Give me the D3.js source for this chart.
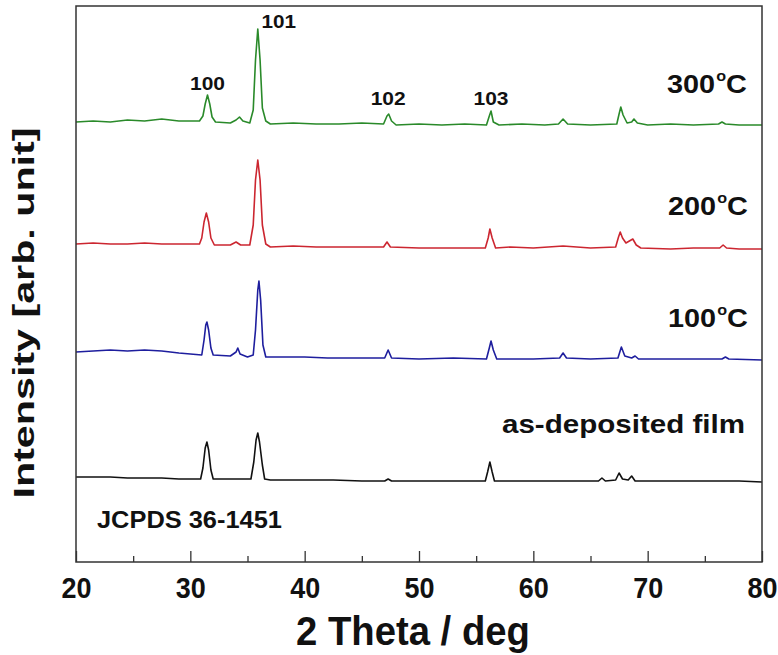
<!DOCTYPE html>
<html>
<head>
<meta charset="utf-8">
<script src="https://cdn.jsdelivr.net/npm/d3@7/dist/d3.min.js"></script>
<style>
  html, body { margin: 0; padding: 0; background: #fff; }
  svg { display: block; }
  text { font-family: "Liberation Sans", Arial, sans-serif; font-weight: bold; fill: #111; }
</style>
</head>
<body>
<svg id="chart" width="778" height="655"></svg>
<script>
// XRD patterns of the films, stacked with a vertical offset (arbitrary intensity units).
// Each pattern: [2θ (deg), intensity]
const pattern300 = [
  [20,440],[21.5,441],[23,440],[24.5,442],[26,441],[27.5,443],[29,441],[30.8,441],
  [31.1,446],[31.3,458],[31.5,467],[31.7,458],[31.9,445],[32.2,440],
  [33.5,439],[34.0,442],[34.3,445],[34.6,441],[35.2,439],
  [35.5,452],[35.7,502],[35.9,533],[36.1,502],[36.3,454],[36.6,441],[37.0,438],
  [39,439],[41,438],[43,438],[45,439],[46.9,438],[47.2,446],[47.35,448],[47.6,441],[48,437],
  [50,438],[52,437],[54,438],[55.9,437],[56.15,446],[56.3,451],[56.5,440],[57,437],
  [59,438],[61,437],[62.2,438],[62.6,443],[63.0,438],[65,437],
  [67.3,438],[67.5,448],[67.65,455],[67.85,447],[68.2,439],[68.6,440],[68.8,443],[69.1,439],
  [70,437],[72,438],[74,437],[76.2,438],[76.5,440],[76.8,438],[78,437],[80,437]
];
const pattern200 = [
  [20,318],[21.5,319],[23,318],[24.5,318],[26,319],[27.5,318],[29,318],[30.8,318],
  [31.0,324],[31.2,340],[31.4,349],[31.6,340],[31.8,324],[32.1,317],
  [33.5,317],[34.0,320],[34.4,317],[35.2,317],
  [35.5,337],[35.7,382],[35.9,402],[36.1,382],[36.3,337],[36.6,318],[37.0,315],
  [39,316],[41,315],[44,315],[46.9,315],[47.2,320],[47.5,315],[50,314],
  [53,314],[55.8,314],[56.05,324],[56.2,333],[56.4,324],[56.7,314],
  [58,315],[60,314],[62.6,316],[65,314],
  [67.2,315],[67.45,325],[67.6,330],[67.8,324],[68.1,319],[68.4,321],[68.7,323],[69.0,317],[69.4,314],
  [72,313],[74,314],[76.3,314],[76.6,317],[76.9,314],[78,313],[80,313]
];
const pattern100 = [
  [20,210],[21.5,211],[23,212],[24.5,211],[26,212],[27.5,211],[29,209],[31.0,207],
  [31.2,222],[31.35,237],[31.45,240],[31.6,232],[31.8,214],[32.0,207],
  [33.5,206],[34.0,210],[34.15,214],[34.35,208],[35.0,205],
  [35.5,207],[35.7,232],[35.9,272],[36.0,281],[36.15,262],[36.35,217],[36.6,205],
  [38,205],[40,205],[42,204],[44,204],[47.0,204],[47.3,212],[47.6,204],[50,203],
  [53,204],[55.9,203],[56.15,214],[56.3,221],[56.5,212],[56.8,203],
  [58,203],[60,203],[62.3,204],[62.6,209],[62.9,204],[65,203],
  [67.4,204],[67.7,215],[68.0,206],[68.6,204],[68.9,206],[69.2,203],
  [72,203],[74,203],[76.5,203],[76.8,205],[77.1,203],[80,202]
];
const patternAsDep = [
  [20,85],[21.5,85],[23,85],[24.5,84],[26,84],[27.5,84],[29,83],[30.9,83],
  [31.1,94],[31.3,114],[31.45,120],[31.6,112],[31.8,92],[32.0,83],
  [34,83],[35.3,83],[35.55,100],[35.75,122],[35.9,129],[36.05,120],[36.3,97],[36.5,83],[37,82],
  [40,82],[42.5,82],[45,81],[47.0,81],[47.3,83],[47.6,81],[50,81],
  [53,81],[55.8,81],[56.0,90],[56.2,100],[56.4,90],[56.6,81],
  [58,81],[60,81],[63,81],[65.7,81],[66.0,84],[66.3,81],
  [67.2,82],[67.5,89],[67.8,83],[68.3,82],[68.6,86],[68.9,81],
  [72,81],[74,81],[76,81],[78,81],[80,80]
];

const sampleNames  = ["300°C", "200°C", "100°C", "as-deposited film"];
const sampleColors = ["#2a8a2a", "#cc2630", "#1e1e9e", "#111111"];
const patterns     = [pattern300, pattern200, pattern100, patternAsDep];

// Miller indices of the wurtzite reflections labelled above the top pattern
const hklLabels  = ["100", "101", "102", "103"];
const hklAngles  = [31.5, 36.0, 47.3, 56.3];
const hklHeights = [472, 534, 457, 457];

const xTicksMajor = [20, 30, 40, 50, 60, 70, 80];
const xTicksMinor = [25, 35, 45, 55, 65, 75];

const svg = d3.select("#chart");
const m = { left: 76, right: 762, top: 6, bottom: 562 };

const x = d3.scaleLinear().domain([20, 80]).range([m.left, m.right]);
const y = d3.scaleLinear().domain([0, 556]).range([m.bottom, m.top]);

// Patterns
const line = d3.line().x(d => x(d[0])).y(d => y(d[1]));
svg.append("g").selectAll("path")
  .data(patterns)
  .join("path")
  .attr("d", line)
  .attr("fill", "none")
  .attr("stroke", (d, i) => sampleColors[i])
  .attr("stroke-width", 1.6)
  .attr("stroke-linejoin", "round");

// Frame
svg.append("rect")
  .attr("x", m.left).attr("y", m.top)
  .attr("width", m.right - m.left).attr("height", m.bottom - m.top)
  .attr("fill", "none").attr("stroke", "#333").attr("stroke-width", 1.5);

// Fit a text element horizontally into [x0, x0 + w] at baseline yb
function fitText(t, x0, yb, w) {
  const nat = t.node().getBBox().width;
  t.attr("transform", `translate(${x0},${yb}) scale(${w / nat},1)`);
  return t;
}

// Bottom axis: ticks point inward, labels below
const axisMajor = d3.axisBottom(x).tickValues(xTicksMajor).tickSize(-11).tickFormat(d3.format("d"));
const gx = svg.append("g").attr("transform", `translate(0,${m.bottom})`).call(axisMajor);
gx.select(".domain").remove();
gx.selectAll(".tick line").attr("stroke", "#333").attr("stroke-width", 1.3);
gx.selectAll(".tick text").each(function () {
  const t = d3.select(this)
    .attr("font-size", 30).attr("font-family", "Liberation Sans, Arial, sans-serif")
    .attr("font-weight", "bold").attr("fill", "#111")
    .attr("text-anchor", "start").attr("x", 0).attr("y", 0).attr("dy", 0);
  fitText(t, -15, 36, 30);
});

const axisMinor = d3.axisBottom(x).tickValues(xTicksMinor).tickSize(-6).tickFormat("");
const gxm = svg.append("g").attr("transform", `translate(0,${m.bottom})`).call(axisMinor);
gxm.select(".domain").remove();
gxm.selectAll(".tick line").attr("stroke", "#333").attr("stroke-width", 1.3);

// Axis titles
fitText(svg.append("text").attr("font-size", 40).text("2 Theta / deg"), 296, 645, 234);
svg.append("text")
  .attr("font-size", 30)
  .attr("text-anchor", "middle")
  .attr("textLength", 371).attr("lengthAdjust", "spacingAndGlyphs")
  .attr("transform", `translate(34,${313}) rotate(-90)`)
  .text("Intensity [arb. unit]");

// Reflection labels
hklLabels.forEach((lab, i) => {
  const t = svg.append("text").attr("font-size", 19).text(lab);
  const w = 35;
  fitText(t, x(hklAngles[i]) - w / 2 + (i === 1 ? 20 : 0), y(hklHeights[i]), w);
});

// Sample labels (with superscript degree sign)
const labelBoxes = [[667, 93, 80], [668, 215, 80], [668, 327, 80], [502, 433, 243]];
sampleNames.forEach((name, i) => {
  const t = svg.append("text").attr("font-size", 25);
  if (name.endsWith("°C")) {
    t.append("tspan").text(name.replace("°C", ""));
    t.append("tspan").attr("font-size", 14).attr("dy", -12).attr("dx", 1).text("o");
    t.append("tspan").attr("dy", 12).text("C");
  } else {
    t.text(name);
  }
  const [bx, by, bw] = labelBoxes[i];
  fitText(t, bx, by, bw);
});

fitText(svg.append("text").attr("font-size", 24).text("JCPDS 36-1451"), 97, 528, 185);
</script>
</body>
</html>
